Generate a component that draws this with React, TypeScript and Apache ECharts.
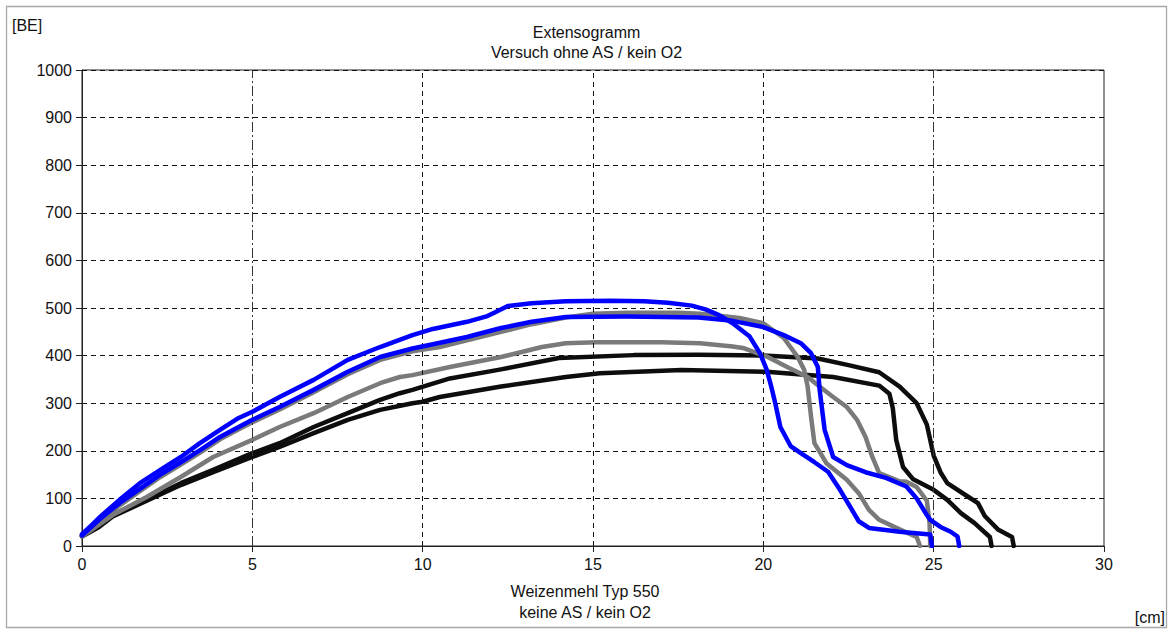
import React, { useEffect, useRef } from "react";
import * as echarts from "echarts";

// Extensogramm: Widerstand [BE] über Dehnung [cm]
const xTicks = [0, 5, 10, 15, 20, 25, 30];
const yTicks = [0, 100, 200, 300, 400, 500, 600, 700, 800, 900, 1000];

const blueUpper: [number, number][] = [
  [0, 25], [0.3, 45], [0.53, 61], [1.1, 97], [1.7, 132], [2.3, 160], [2.9, 187], [3.46, 216],
  [4.05, 244], [4.6, 269], [5.0, 282], [5.8, 313], [6.8, 349], [7.8, 391], [8.75, 418], [9.7, 443],
  [10.3, 456], [11.3, 471], [11.9, 483], [12.1, 490], [12.5, 504], [13.2, 510], [14.2, 514],
  [15.5, 515], [16.5, 514], [17.2, 511], [17.9, 505], [18.3, 497], [18.7, 485], [19.1, 468],
  [19.6, 440], [19.9, 405], [20.1, 370], [20.25, 330], [20.35, 300], [20.5, 250], [20.8, 210],
  [21.1, 195], [21.5, 176], [21.9, 156], [22.25, 118], [22.55, 82], [22.8, 52], [23.1, 38],
  [24.0, 30], [24.9, 24], [24.95, 0],
];

const blueLower: [number, number][] = [
  [0, 22], [0.5, 55], [1.1, 90], [1.7, 120], [2.3, 150], [2.9, 176], [3.5, 203], [4.05, 229],
  [4.6, 250], [5.0, 265], [5.8, 292], [6.8, 328], [7.8, 366], [8.75, 397], [9.7, 415], [10.3, 424],
  [11.3, 439], [12.3, 458], [13.2, 471], [14.2, 481], [16.0, 482], [18.1, 480], [19.1, 473],
  [20.0, 460], [20.6, 443], [21.1, 426], [21.4, 405], [21.6, 376], [21.65, 330], [21.8, 244],
  [22.05, 187], [22.45, 170], [23.0, 155], [23.6, 143], [24.2, 125], [24.5, 100], [24.8, 65],
  [24.9, 55], [25.2, 40], [25.5, 30], [25.7, 20], [25.75, 0],
];

const grayUpper: [number, number][] = [
  [0, 20], [0.5, 51], [1.1, 85], [1.7, 115], [2.3, 145], [2.9, 171], [3.5, 198], [4.05, 224],
  [4.6, 245], [5.0, 260], [5.8, 287], [6.8, 323], [7.8, 361], [8.75, 391], [9.7, 409], [10.5, 418],
  [11.3, 432], [12.3, 450], [13.2, 466], [14.2, 480], [15.0, 488], [16.0, 490], [17.5, 490],
  [18.14, 488], [19.3, 479], [20.0, 468], [20.6, 437], [21.0, 398], [21.2, 370], [21.3, 335],
  [21.4, 272], [21.5, 216], [21.85, 174], [22.45, 139], [22.8, 111], [23.1, 76], [23.4, 55],
  [24.0, 35], [24.5, 19], [24.6, 0],
];

const grayLower: [number, number][] = [
  [0, 20], [0.5, 45], [0.9, 65], [1.9, 103], [2.9, 145], [3.85, 187], [5.0, 223], [5.8, 250],
  [6.8, 279], [7.8, 313], [8.75, 342], [9.33, 355], [9.7, 359], [10.8, 376], [12.3, 397],
  [13.5, 418], [14.2, 426], [15.1, 428], [17.0, 428], [18.14, 426], [19.1, 419], [19.4, 416],
  [20.1, 398], [20.7, 376], [21.3, 355], [21.65, 335], [22.05, 313], [22.45, 292], [22.75, 265],
  [23.0, 229], [23.2, 187], [23.4, 153], [24.0, 136], [24.2, 135], [24.5, 124], [24.8, 95],
  [24.88, 48], [24.9, 0],
];

const blackUpper: [number, number][] = [
  [0, 22], [0.5, 45], [0.9, 66], [1.9, 97], [2.9, 132], [3.85, 160], [5.0, 195], [5.8, 216],
  [6.8, 250], [7.8, 279], [8.75, 307], [9.33, 321], [9.7, 328], [10.8, 352], [12.3, 371],
  [14.0, 395], [16.2, 401], [18.1, 402], [20.0, 400], [21.6, 394], [22.5, 380], [23.4, 365],
  [24.0, 335], [24.5, 300], [24.8, 255], [25.0, 190], [25.2, 155], [25.4, 132], [26.0, 104],
  [26.3, 90], [26.5, 63], [26.9, 34], [27.3, 19], [27.35, 0],
];

const blackLower: [number, number][] = [
  [0, 20], [0.5, 40], [0.9, 62], [1.9, 95], [2.9, 128], [3.85, 155], [5.0, 187], [5.8, 208],
  [6.8, 237], [7.8, 265], [8.75, 286], [9.7, 300], [10.0, 303], [10.5, 313], [12.3, 335],
  [14.2, 355], [15.2, 363], [17.6, 370], [20.1, 366], [22.05, 355], [23.4, 337], [23.7, 320],
  [23.8, 290], [23.9, 223], [24.1, 166], [24.4, 140], [25.0, 118], [25.4, 97], [25.8, 69],
  [26.2, 48], [26.65, 19], [26.7, 0],
];

// vertical grid positions: dash-dot at 5 and 25, plain dashes elsewhere
const dashDotX = [5, 25];
const dashedX = [10, 15, 20];

const FONT = "Liberation Sans, Arial, sans-serif";
const FS = 16;

export default function App() {
  const ref = useRef<HTMLDivElement>(null);

  useEffect(() => {
    if (!ref.current) return;
    const chart = echarts.init(ref.current, undefined, { renderer: "svg" });

    const curve = (name: string, data: [number, number][], color: string, z: number) => ({
      name,
      type: "line",
      data,
      showSymbol: false,
      symbol: "none",
      z,
      lineStyle: { color, width: 4.5, join: "round", cap: "round" },
      itemStyle: { color },
    });

    chart.setOption({
      animation: false,
      backgroundColor: "#ffffff",
      textStyle: { fontFamily: FONT },
      title: {
        text: "Extensogramm\nVersuch ohne AS / kein O2",
        left: "center",
        top: 17,
        textStyle: {
          fontFamily: FONT,
          fontSize: FS,
          fontWeight: "normal",
          color: "#111",
          lineHeight: 20,
        },
      },
      grid: {
        left: 82,
        right: 69,
        top: 70,
        bottom: 84,
        show: true,
        borderColor: "#222",
        borderWidth: 1,
        backgroundColor: "transparent",
      },
      xAxis: {
        type: "value",
        min: xTicks[0],
        max: xTicks[xTicks.length - 1],
        interval: 5,
        axisLine: { show: true, lineStyle: { color: "#222", width: 1 } },
        axisTick: { show: true, length: 6, lineStyle: { color: "#222" } },
        axisLabel: { fontFamily: FONT, fontSize: FS, color: "#111", margin: 10 },
        splitLine: { show: false },
      },
      yAxis: {
        type: "value",
        min: yTicks[0],
        max: yTicks[yTicks.length - 1],
        interval: 100,
        axisLine: { show: true, lineStyle: { color: "#222", width: 1 } },
        axisTick: { show: true, length: 6, lineStyle: { color: "#222" } },
        axisLabel: {
          fontFamily: FONT,
          fontSize: FS,
          color: "#111",
          margin: 10,
          formatter: (v: number) => String(v),
        },
        splitLine: { show: true, lineStyle: { color: "#111", width: 1, type: [5, 4] } },
      },
      series: [
        {
          name: "grid",
          type: "line",
          data: [],
          z: 1,
          silent: true,
          markLine: {
            silent: true,
            symbol: "none",
            label: { show: false },
            animation: false,
            data: [
              ...dashDotX.map((x) => ({
                xAxis: x,
                lineStyle: { color: "#333", width: 1, type: [10, 3, 2, 3] },
              })),
              ...dashedX.map((x) => ({
                xAxis: x,
                lineStyle: { color: "#111", width: 1, type: [5, 4] },
              })),
            ],
          },
        },
        curve("Schwarz 1", blackLower, "#0d0d0d", 3),
        curve("Schwarz 2", blackUpper, "#0d0d0d", 3),
        curve("Grau 1", grayLower, "#7a7a7a", 4),
        curve("Grau 2", grayUpper, "#7a7a7a", 4),
        curve("Blau 1", blueLower, "#0000ff", 5),
        curve("Blau 2", blueUpper, "#0000ff", 5),
      ],
      graphic: [
        {
          type: "rect",
          shape: { x: 6.5, y: 6.5, width: 1160, height: 621 },
          style: { fill: "none", stroke: "#a8a8a8", lineWidth: 1.3 },
          silent: true,
        },
        {
          type: "text",
          left: 12,
          top: 17,
          style: { text: "[BE]", fontFamily: FONT, fontSize: FS, fill: "#111" },
        },
        {
          type: "text",
          right: 8,
          top: 609,
          style: { text: "[cm]", fontFamily: FONT, fontSize: FS, fill: "#111" },
        },
        {
          type: "text",
          x: 585,
          y: 581,
          style: {
            text: "Weizenmehl Typ 550\nkeine AS / kein O2",
            fontFamily: FONT,
            fontSize: FS,
            lineHeight: 21,
            fill: "#111",
            align: "center",
          },
        },
      ],
    });

    return () => chart.dispose();
  }, []);

  return (
    <div
      ref={ref}
      style={{ position: "absolute", left: 0, top: 0, width: 1173, height: 630, background: "#fff" }}
    />
  );
}
